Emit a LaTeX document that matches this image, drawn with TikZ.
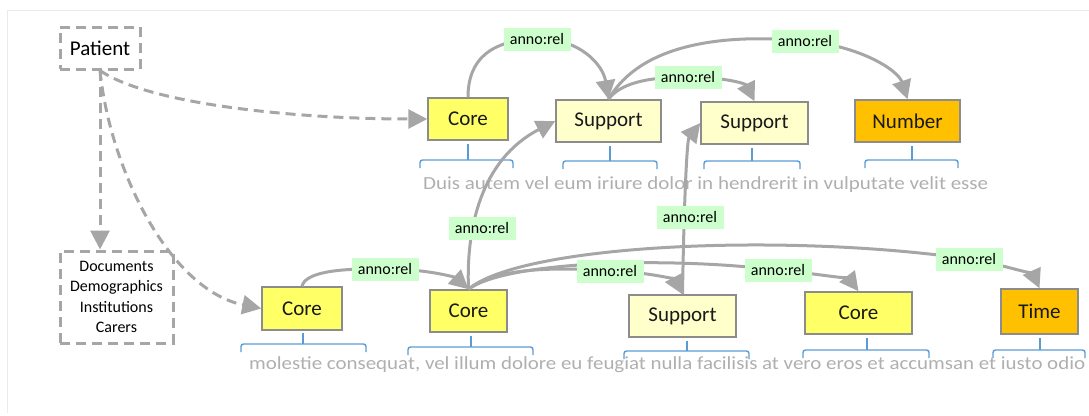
\documentclass[tikz,border=0pt]{standalone}
\usepackage{fontspec}
\setmainfont{Carlito}
\usetikzlibrary{arrows.meta}
\definecolor{edgegray}{RGB}{166,166,166}
\definecolor{boxborder}{RGB}{140,140,140}
\definecolor{coreY}{RGB}{255,255,102}
\definecolor{suppY}{RGB}{255,255,204}
\definecolor{orangeC}{RGB}{255,192,0}
\definecolor{labelG}{RGB}{204,255,204}
\definecolor{braceB}{RGB}{91,155,213}
\definecolor{txtgray}{RGB}{175,175,175}
\definecolor{framec}{RGB}{235,235,235}
\tikzset{
 ent/.style={draw=boxborder, line width=1.5pt, inner sep=0pt, font=\fontsize{21}{24}\selectfont, text=black!90},
 corebox/.style={ent, fill=coreY},
 suppbox/.style={ent, fill=suppY},
 orbox/.style={ent, fill=orangeC},
 rel/.style={fill=labelG, inner sep=0pt, minimum width=67pt, minimum height=23pt, font=\fontsize{16}{18}\selectfont},
 edge/.style={draw=edgegray, line width=3pt, -{Triangle[length=19pt,width=19pt]}},
 dashpat/.style={dash pattern=on 10pt off 6pt},
 dedge/.style={edge, dashpat},
 dbox/.style={draw=edgegray, line width=3pt, dashpat, inner sep=0pt},
 brace/.style={draw=braceB, line width=1.4pt, rounded corners=2.5pt},
 lorem/.style={text=txtgray, font=\fontsize{18.5}{20}\selectfont, inner sep=0pt, anchor=base west},
}
\begin{document}
\begin{tikzpicture}[x=1pt,y=-1pt]
\useasboundingbox (0,0) rectangle (1089,415);
\draw[framec, line width=1pt] (7,413) -- (7,10) -- (1089,10);
% entity nodes
\node[dbox, minimum width=80pt, minimum height=42pt, font=\fontsize{21}{24}\selectfont] (patient) at (100,48) {Patient};
\node[dbox, minimum width=113pt, minimum height=92pt, align=center, font=\fontsize{16}{20.5}\selectfont] (docs) at (116.5,297) {Documents\\Demographics\\Institutions\\Carers};
\node[corebox, minimum width=80pt, minimum height=42pt] (core1) at (468,119) {Core};
\node[suppbox, minimum width=105pt, minimum height=42pt] (sup1) at (608.5,121) {Support};
\node[suppbox, minimum width=107pt, minimum height=42pt] (sup2) at (754.5,123) {Support};
\node[orbox, minimum width=105pt, minimum height=42pt] (number) at (907.5,121) {Number};
\node[corebox, minimum width=80pt, minimum height=43pt] (core2) at (302,308.5) {Core};
\node[corebox, minimum width=77pt, minimum height=42pt] (core3) at (468.5,311) {Core};
\node[suppbox, minimum width=107pt, minimum height=42pt] (sup3) at (682.5,316) {Support};
\node[corebox, minimum width=107pt, minimum height=42pt] (core4) at (858.5,313) {Core};
\node[orbox, minimum width=77pt, minimum height=45pt] (time) at (1039.5,311.5) {Time};
% braces
\draw[brace] (420,168) -- (420,160) -- (513,160) -- (513,168); \draw[brace] (468,160) -- (468,144);
\draw[brace] (563,169) -- (563,161) -- (657,161) -- (657,169); \draw[brace] (610,161) -- (610,146);
\draw[brace] (704,169) -- (704,161) -- (800,161) -- (800,169); \draw[brace] (752,161) -- (752,148);
\draw[brace] (865,168) -- (865,160) -- (958,160) -- (958,168); \draw[brace] (912,160) -- (912,146);
\draw[brace] (241,352) -- (241,344) -- (366,344) -- (366,352); \draw[brace] (303,344) -- (303,333);
\draw[brace] (408,355) -- (408,347) -- (533,347) -- (533,355); \draw[brace] (471,347) -- (471,336);
\draw[brace] (624,359) -- (624,351) -- (749,351) -- (749,359); \draw[brace] (687,351) -- (687,341);
\draw[brace] (803,358) -- (803,350) -- (929,350) -- (929,358); \draw[brace] (867,350) -- (867,338);
\draw[brace] (993,358) -- (993,350) -- (1085,350) -- (1085,358); \draw[brace] (1040,350) -- (1040,338);
% text lines
\node[lorem] (t1) at (423,189) {\resizebox{565pt}{\height}{Duis autem vel eum iriure dolor in hendrerit in vulputate velit esse}};
\node[lorem] (t2) at (249,369) {\resizebox{836pt}{\height}{molestie consequat, vel illum dolore eu feugiat nulla facilisis at vero eros et accumsan et iusto odio}};
% label positions
\coordinate (p1) at (537,39);
\coordinate (p2) at (688,77);
\coordinate (p3) at (805,41);
\coordinate (p4) at (482,228);
\coordinate (p5) at (690,217);
\coordinate (p6) at (385,269);
\coordinate (p7) at (610,271);
\coordinate (p8) at (778,270);
\coordinate (p9) at (969,259);
% dashed edges
\draw[dedge] (patient.south) .. controls (150,105) and (300,119) .. (core1.west);
\draw[dedge] (patient.south) -- (patient.south |- docs.north);
\draw[dedge] (patient.south) .. controls (110,170) and (170,290) .. (core2.west);
% relation edges
\draw[edge] (core1.north) .. controls (468,60) and (490,40) .. (p1) .. controls (580,38) and (603,65) .. (sup1.north);
\draw[edge] (sup1.north) .. controls (620,84) and (645,77) .. (p2) .. controls (725,77) and (746,84) .. (sup2.north);
\draw[edge] (sup1.north) .. controls (640,45) and (720,33) .. (p3) .. controls (860,46) and (898,70) .. (number.north);
\draw[edge] (core3.north) .. controls (466,230) and (480,160) .. (sup1.west);
\draw[edge] (sup3.north) .. controls (684,200) and (687,140) .. (sup2.west);
\draw[edge] (core2.north) .. controls (305,273) and (335,268) .. (p6) .. controls (430,269) and (456,278) .. (core3.north);
\draw[edge] (core3.north) .. controls (492,270) and (545,266) .. (p7) .. controls (650,272) and (675,280) .. (sup3.north);
\draw[edge] (core3.north) .. controls (505,262) and (660,256) .. (p8) .. controls (820,274) and (850,280) .. (core4.north);
\draw[edge] (core3.north) .. controls (520,245) and (780,232) .. (p9) .. controls (1010,266) and (1034,276) .. (time.north);
% labels
\node[rel] (l1) at (p1) {anno:rel};
\node[rel] (l2) at (p2) {anno:rel};
\node[rel] (l3) at (p3) {anno:rel};
\node[rel] (l4) at (p4) {anno:rel};
\node[rel] (l5) at (p5) {anno:rel};
\node[rel] (l6) at (p6) {anno:rel};
\node[rel] (l7) at (p7) {anno:rel};
\node[rel] (l8) at (p8) {anno:rel};
\node[rel] (l9) at (p9) {anno:rel};
\end{tikzpicture}
\end{document}
